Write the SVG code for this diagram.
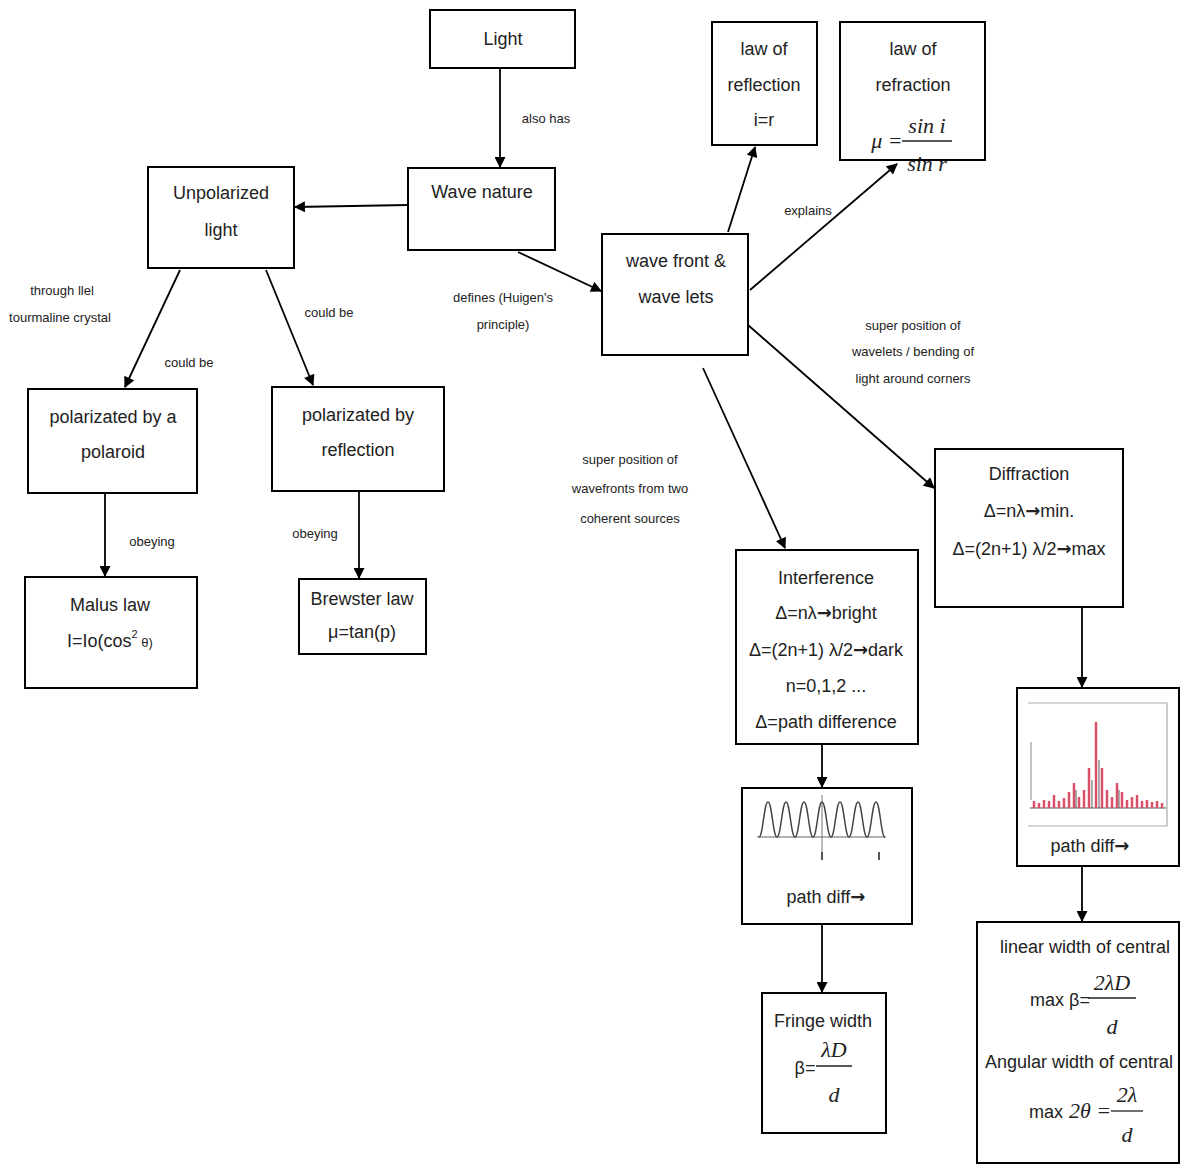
<svg xmlns="http://www.w3.org/2000/svg" width="1180" height="1165" viewBox="0 0 1180 1165">
<style>
.box{fill:#fff;stroke:#000;stroke-width:2}
.t{font-family:"Liberation Sans",Arial,sans-serif;font-size:18px;fill:#222;text-anchor:middle}
.s{font-family:"Liberation Sans",Arial,sans-serif;font-size:13px;fill:#222;text-anchor:middle}
.m{font-family:"Liberation Serif","Times New Roman",serif;font-style:italic;font-size:22px;fill:#222;text-anchor:middle}
.ar{font-family:"DejaVu Sans",sans-serif;font-weight:bold}
.c{stroke:#000;stroke-width:1.8;fill:none;marker-end:url(#ah)}
.fr{stroke:#222;stroke-width:1.3}
.bar{stroke:#d9506a;stroke-width:2.5}
</style>
<defs>
<marker id="ah" viewBox="0 0 10 10" refX="9" refY="5" markerWidth="12" markerHeight="11" markerUnits="userSpaceOnUse" orient="auto">
<path d="M0,0 L10,5 L0,10 z" fill="#000"/>
</marker>
</defs>
<rect width="1180" height="1165" fill="#fff"/>

<g id="connectors">
<line class="c" x1="500" y1="68" x2="500" y2="167"/>
<line class="c" x1="408" y1="205" x2="295" y2="207"/>
<line class="c" x1="518" y1="252" x2="601" y2="291"/>
<line class="c" x1="728" y1="232" x2="755" y2="147"/>
<line class="c" x1="750" y1="290" x2="897" y2="164"/>
<line class="c" x1="740" y1="318" x2="934" y2="488"/>
<line class="c" x1="703" y1="368" x2="785" y2="548"/>
<line class="c" x1="180" y1="270" x2="125" y2="387"/>
<line class="c" x1="266" y1="270" x2="313" y2="385"/>
<line class="c" x1="105" y1="493" x2="105" y2="576"/>
<line class="c" x1="359" y1="491" x2="359" y2="578"/>
<line class="c" x1="822" y1="744" x2="822" y2="787"/>
<line class="c" x1="822" y1="924" x2="822" y2="992"/>
<line class="c" x1="1082" y1="607" x2="1082" y2="687"/>
<line class="c" x1="1082" y1="866" x2="1082" y2="921"/>
<text class="s" x="546" y="123">also has</text>
<text class="s" x="503" y="302">defines (Huigen's</text>
<text class="s" x="503" y="329">principle)</text>
<text class="s" x="808" y="215">explains</text>
<text class="s" x="913" y="330">super position of</text>
<text class="s" x="913" y="356">wavelets / bending of</text>
<text class="s" x="913" y="383">light around corners</text>
<text class="s" x="630" y="464">super position of</text>
<text class="s" x="630" y="493">wavefronts from two</text>
<text class="s" x="630" y="523">coherent sources</text>
<text class="s" x="62" y="295">through llel</text>
<text class="s" x="60" y="322">tourmaline crystal</text>
<text class="s" x="189" y="367">could be</text>
<text class="s" x="329" y="317">could be</text>
<text class="s" x="152" y="546">obeying</text>
<text class="s" x="315" y="538">obeying</text>
</g>

<g id="light">
<rect class="box" x="430" y="10" width="145" height="58"/>
<text class="t" x="503" y="45">Light</text>
</g>
<g id="wave-nature">
<rect class="box" x="408" y="168" width="147" height="82"/>
<text class="t" x="482" y="198">Wave nature</text>
</g>
<g id="unpolarized">
<rect class="box" x="148" y="167" width="146" height="101"/>
<text class="t" x="221" y="199">Unpolarized</text>
<text class="t" x="221" y="236">light</text>
</g>
<g id="wavefront">
<rect class="box" x="602" y="234" width="146" height="121"/>
<text class="t" x="676" y="267">wave front &amp;</text>
<text class="t" x="676" y="303">wave lets</text>
</g>
<g id="reflection-law">
<rect class="box" x="712" y="22" width="105" height="123"/>
<text class="t" x="764" y="55">law of</text>
<text class="t" x="764" y="91">reflection</text>
<text class="t" x="764" y="126">i=r</text>
</g>
<g id="refraction-law">
<rect class="box" x="840" y="22" width="145" height="138"/>
<text class="t" x="913" y="55">law of</text>
<text class="t" x="913" y="91">refraction</text>
<text class="m" x="887" y="148">μ =</text>
<text class="m" x="927" y="133">sin i</text>
<line class="fr" x1="902" y1="141" x2="952" y2="141"/>
<text class="m" x="927" y="171">sin r</text>
</g>
<g id="polaroid">
<rect class="box" x="28" y="389" width="169" height="104"/>
<text class="t" x="113" y="423">polarizated by  a</text>
<text class="t" x="113" y="458">polaroid</text>
</g>
<g id="by-reflection">
<rect class="box" x="272" y="387" width="172" height="104"/>
<text class="t" x="358" y="421">polarizated by</text>
<text class="t" x="358" y="456">reflection</text>
</g>
<g id="malus">
<rect class="box" x="25" y="577" width="172" height="111"/>
<text class="t" x="110" y="611">Malus law</text>
<text class="t" x="110" y="647">I=Io(cos<tspan font-size="11" dy="-9">2</tspan><tspan font-size="13" dy="9"> θ)</tspan></text>
</g>
<g id="brewster">
<rect class="box" x="299" y="579" width="127" height="75"/>
<text class="t" x="362" y="605" font-size="15">Brewster law</text>
<text class="t" x="362" y="638">μ=tan(p)</text>
</g>
<g id="interference">
<rect class="box" x="736" y="550" width="182" height="194"/>
<text class="t" x="826" y="584">Interference</text>
<text class="t" x="826" y="619">Δ=nλ<tspan class="ar">→</tspan>bright</text>
<text class="t" x="826" y="656" font-size="17">Δ=(2n+1) λ/2<tspan class="ar">→</tspan>dark</text>
<text class="t" x="826" y="692">n=0,1,2 ...</text>
<text class="t" x="826" y="728">Δ=path difference</text>
</g>
<g id="diffraction">
<rect class="box" x="935" y="449" width="188" height="158"/>
<text class="t" x="1029" y="480">Diffraction</text>
<text class="t" x="1029" y="517">Δ=nλ<tspan class="ar">→</tspan>min.</text>
<text class="t" x="1029" y="555">Δ=(2n+1) λ/2<tspan class="ar">→</tspan>max</text>
</g>
<g id="interference-graph">
<rect class="box" x="742" y="788" width="170" height="136"/>
<line x1="757" y1="837" x2="886" y2="837" stroke="#999" stroke-width="1.5"/>
<line x1="822" y1="795" x2="822" y2="860" stroke="#777" stroke-width="1"/>
<path fill="none" stroke="#444" stroke-width="1.5" d="M759,837 C763,837 764,802 768,802 C772,802 773,837 777,837 C781,837 782,802 786,802 C790,802 791,837 795,837 C799,837 800,802 804,802 C808,802 809,837 813,837 C817,837 818,802 822,802 C826,802 827,837 831,837 C835,837 836,802 840,802 C844,802 845,837 849,837 C853,837 854,802 858,802 C862,802 863,837 867,837 C871,837 872,802 876,802 C880,802 881,837 885,837"/>
<line x1="822" y1="852" x2="822" y2="860" stroke="#555" stroke-width="2"/>
<line x1="879" y1="852" x2="879" y2="860" stroke="#555" stroke-width="2"/>
<text class="t" x="826" y="903">path diff<tspan class="ar">→</tspan></text>
</g>
<g id="fringe">
<rect class="box" x="762" y="993" width="124" height="140"/>
<text class="t" x="823" y="1027">Fringe width</text>
<text class="t" x="805" y="1074">β=</text>
<text class="m" x="834" y="1057">λD</text>
<line class="fr" x1="816" y1="1066" x2="852" y2="1066"/>
<text class="m" x="834" y="1102">d</text>
</g>
<g id="diffraction-graph">
<rect class="box" x="1017" y="688" width="162" height="178"/>
<polyline fill="none" stroke="#aaa" stroke-width="1.2" points="1028,703 1167,703 1167,826 1028,826"/>
<line x1="1031" y1="742" x2="1031" y2="800" stroke="#888" stroke-width="1"/>
<line x1="1030" y1="808" x2="1166" y2="808" stroke="#555" stroke-width="1.2"/>
<g class="bar">
<line x1="1034" y1="808" x2="1034" y2="801"/>
<line x1="1039" y1="808" x2="1039" y2="803"/>
<line x1="1044" y1="808" x2="1044" y2="800"/>
<line x1="1049" y1="808" x2="1049" y2="801"/>
<line x1="1054" y1="808" x2="1054" y2="795"/>
<line x1="1059" y1="808" x2="1059" y2="801"/>
<line x1="1064" y1="808" x2="1064" y2="798"/>
<line x1="1069" y1="808" x2="1069" y2="792"/>
<line x1="1074" y1="808" x2="1074" y2="783"/>
<line x1="1079" y1="808" x2="1079" y2="797"/>
<line x1="1084" y1="808" x2="1084" y2="790"/>
<line x1="1089" y1="808" x2="1089" y2="768"/>
<line x1="1096" y1="808" x2="1096" y2="722"/>
<line x1="1102" y1="808" x2="1102" y2="768"/>
<line x1="1107" y1="808" x2="1107" y2="790"/>
<line x1="1112" y1="808" x2="1112" y2="797"/>
<line x1="1117" y1="808" x2="1117" y2="783"/>
<line x1="1122" y1="808" x2="1122" y2="792"/>
<line x1="1127" y1="808" x2="1127" y2="800"/>
<line x1="1132" y1="808" x2="1132" y2="797"/>
<line x1="1137" y1="808" x2="1137" y2="795"/>
<line x1="1142" y1="808" x2="1142" y2="801"/>
<line x1="1147" y1="808" x2="1147" y2="800"/>
<line x1="1152" y1="808" x2="1152" y2="802"/>
<line x1="1157" y1="808" x2="1157" y2="801"/>
<line x1="1162" y1="808" x2="1162" y2="803"/>
</g>
<g stroke="#333" stroke-width="0.8">
<line x1="1092" y1="808" x2="1092" y2="780"/>
<line x1="1099" y1="808" x2="1099" y2="760"/>
<line x1="1076" y1="808" x2="1076" y2="790"/>
<line x1="1119" y1="808" x2="1119" y2="790"/>
</g>
<text class="t" x="1090" y="852" font-size="15">path diff<tspan class="ar">→</tspan></text>
</g>
<g id="central-width">
<rect class="box" x="977" y="922" width="202" height="241"/>
<text class="t" x="1085" y="953" font-size="17.5">linear width of central</text>
<text class="t" x="1060" y="1006">max β=</text>
<text class="m" x="1112" y="990">2λD</text>
<line class="fr" x1="1088" y1="998" x2="1136" y2="998"/>
<text class="m" x="1112" y="1034">d</text>
<text class="t" x="1079" y="1068" font-size="17">Angular width of central</text>
<text class="t" x="1046" y="1118">max</text>
<text class="m" x="1090" y="1118">2θ =</text>
<text class="m" x="1127" y="1102">2λ</text>
<line class="fr" x1="1111" y1="1111" x2="1143" y2="1111"/>
<text class="m" x="1127" y="1142">d</text>
</g>
</svg>
